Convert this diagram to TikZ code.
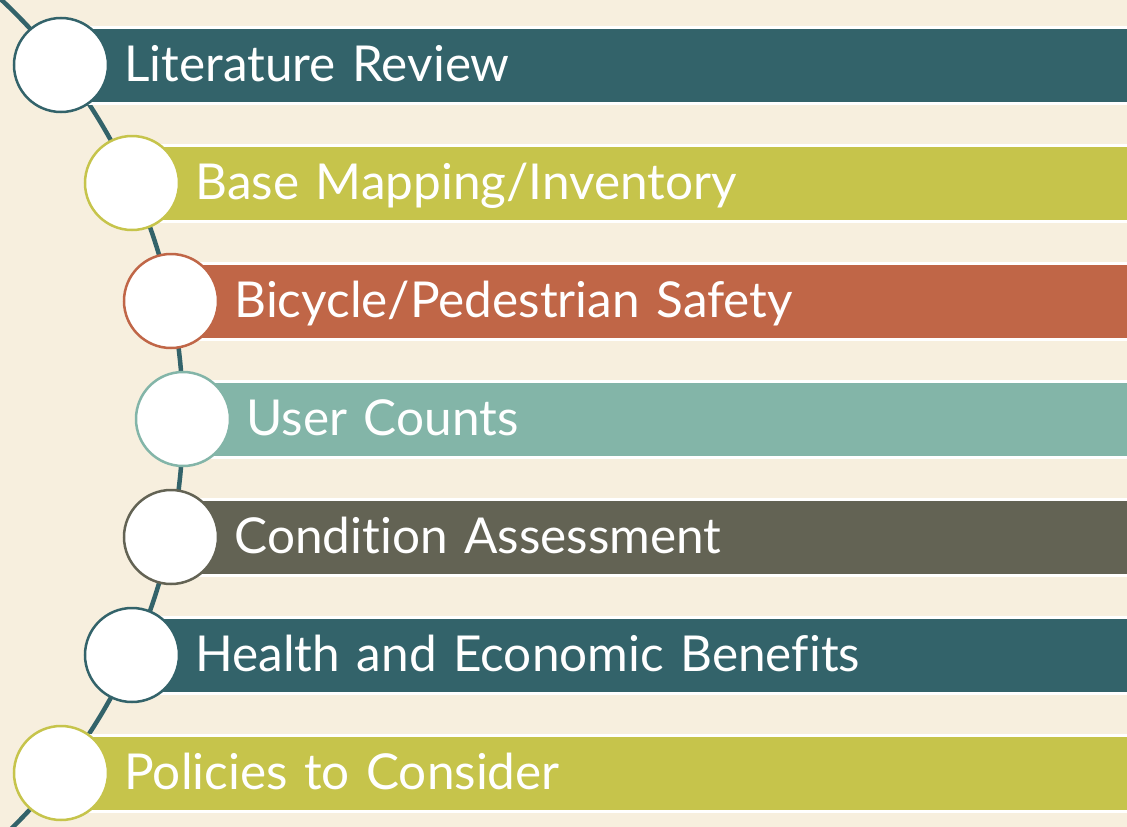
\documentclass[tikz,border=0pt]{standalone}
\usepackage{fontspec}
\setmainfont{Lato}[Ligatures=NoCommon]
\definecolor{bg}{HTML}{F7EFDE}
\definecolor{cteal}{HTML}{33636A}
\definecolor{colive}{HTML}{C6C44B}
\definecolor{crust}{HTML}{C06647}
\definecolor{csea}{HTML}{83B5A8}
\definecolor{cgray}{HTML}{636354}
\tikzset{
  barbox/.style={draw=white, line width=3pt, fill=#1, anchor=west, minimum height=76pt,
    inner xsep=0pt, inner ysep=0pt, align=left, text=white, font=\fontsize{49.5}{52}\selectfont,
    text height=36pt, text depth=4pt},
  dot/.style={circle, draw=#1, line width=2.5pt, fill=white, minimum size=94pt, inner sep=0pt},
  spine/.style={draw=cteal, line width=4.5pt}
}
\newcommand{\stepbar}[5]{% name, x, y, colour, text
  \pgfmathsetmacro{\bw}{1127-#2}
  \node[barbox=#4, text width=\bw pt] (bar#1) at (#2pt,#3pt) {\hspace*{62pt}#5};
}
\begin{document}
\begin{tikzpicture}[x=1pt,y=1pt]
\useasboundingbox (0,0) rectangle (1127,-827);
\fill[bg] (0,0) rectangle (1127,-827);
\coordinate (arcc) at (-391.6pt,-419pt);
\draw[spine] ([shift={(49:574.6pt)}]arcc) arc[start angle=49, end angle=-49, radius=574.6pt];
\stepbar{1}{61}{-65.5}{cteal}{Literature Review}
\stepbar{2}{132}{-183.5}{colive}{Base Mapping/Inventory}
\stepbar{3}{171}{-301.5}{crust}{Bicycle/Pedestrian Safety}
\stepbar{4}{183}{-419.5}{csea}{User Counts}
\stepbar{5}{171}{-537.5}{cgray}{Condition Assessment}
\stepbar{6}{132}{-655.5}{cteal}{Health and Economic Benefits}
\stepbar{7}{61}{-773.5}{colive}{Policies to Consider}
\node[dot=cteal] (c1) at (61,-65) {};
\node[dot=colive] (c2) at (132,-183) {};
\node[dot=crust] (c3) at (171,-301) {};
\node[dot=csea] (c4) at (183,-419) {};
\node[dot=cgray] (c5) at (171,-537) {};
\node[dot=cteal] (c6) at (132,-655) {};
\node[dot=colive] (c7) at (61,-773) {};
\end{tikzpicture}
\end{document}
